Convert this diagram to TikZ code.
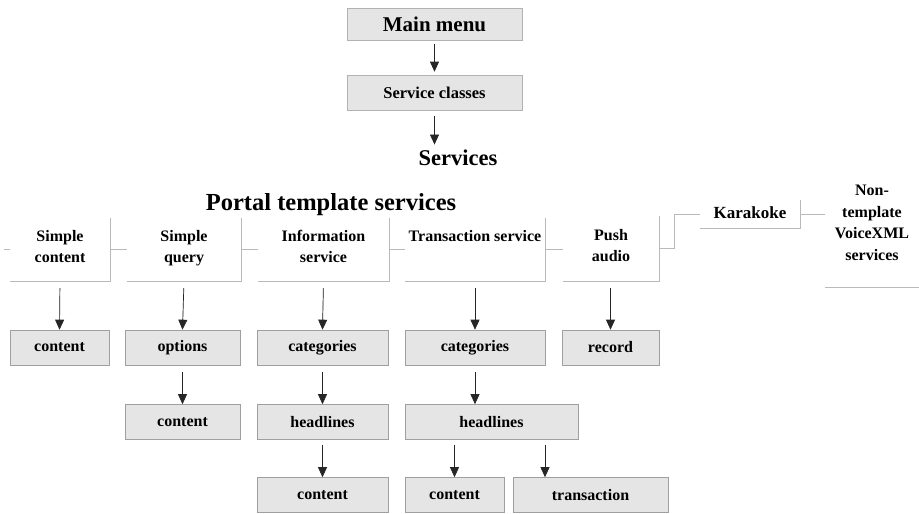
\documentclass[tikz,border=0pt]{standalone}
\usepackage{fontspec}
\setmainfont{Liberation Serif}
\usetikzlibrary{arrows.meta}

\begin{document}
\begin{tikzpicture}[
    x=1pt, y=-1pt,
    menubox/.style={draw=gray!60, fill=gray!20, line width=0.6pt, inner sep=0pt, minimum width=175pt},
    leafbox/.style={draw=gray!75, fill=gray!20, line width=0.6pt, inner sep=0pt, minimum height=35pt, font=\fontsize{16}{20}\selectfont\bfseries},
    tabnode/.style={inner sep=0pt, minimum height=63pt, align=center, font=\fontsize{16}{21.5}\selectfont\bfseries,
        execute at begin node=\strut, execute at end node=\strut},
    tabline/.style={draw=gray!55, line width=0.6pt},
    arrow/.style={-{Triangle[width=9pt,length=10pt]}, line width=0.7pt, draw=black!85, fill=black!85, shorten <=7pt}
]
\useasboundingbox (0,0) rectangle (919,514);

% Top of the menu
\node[menubox, minimum height=32pt, font=\fontsize{21}{24}\selectfont\bfseries] (mm) at (434.5,24) {Main menu};
\node[menubox, minimum height=35pt, font=\fontsize{16.5}{20}\selectfont\bfseries] (scl) at (434.5,92.5) {Service classes};
\node[font=\fontsize{22.5}{26}\selectfont\bfseries] (srv) at (458,158) {Services};
\node[font=\fontsize{24.5}{28}\selectfont\bfseries] (pts) at (331,205) {Portal template services};

\draw[arrow, shorten <=4pt, shorten >=3pt] (mm.south) -- (scl.north);
\draw[arrow, shorten <=6pt, shorten >=2pt] (scl.south) -- (scl.south |- srv.north);

% Service tabs
\node[tabnode, minimum width=100pt] (sc) at (60,249.5) {Simple\\content};
\node[tabnode, minimum width=114pt] (sq) at (184,249.5) {Simple\\query};
\node[tabnode, minimum width=131pt] (is) at (323.5,249.5) {Information\\service};
\node[tabnode, minimum width=140pt] (ts) at (475,249.5) {Transaction service\\};
\node[tabnode, minimum width=96pt, minimum height=65pt] (pa) at (611,248.5) {Push\\audio};
\node[tabnode, minimum width=100pt, minimum height=28pt, font=\fontsize{17}{20}\selectfont\bfseries] (kar) at (750,214) {Karakoke};
\node[tabnode, minimum width=94pt, minimum height=122pt] (nt) at (872,226) {Non-\\template\\VoiceXML\\services};

\foreach \t in {sc,sq,is,ts,pa,kar}
    \draw[tabline] (\t.north east) -- (\t.south east) -- (\t.south west);
\draw[tabline] (nt.south west) -- (nt.south east);

\draw[tabline] (sc.west) -- ++(-6,0);
\draw[tabline] (sc.east) -- (sq.west);
\draw[tabline] (sq.east) -- (is.west);
\draw[tabline] (is.east) -- (ts.west);
\draw[tabline] (ts.east) -- (ts.east -| pa.west);
\draw[tabline] (pa.east) -- ++(15,0) |- (kar.west);
\draw[tabline] (kar.east) -- (kar.east -| nt.west);

% First level
\node[leafbox, minimum width=99pt] (cA) at (59.5,347.5) {content};
\node[leafbox, minimum width=115pt] (opt) at (182.5,347.5) {options};
\node[leafbox, minimum width=131pt] (catA) at (322.5,347.5) {categories};
\node[leafbox, minimum width=140pt] (catB) at (475,347.5) {categories};
\node[leafbox, minimum width=97pt] (rec) at (610.5,347.5) {record};

% Second level
\node[leafbox, minimum width=115pt] (cB) at (182.5,422) {content};
\node[leafbox, minimum width=131pt] (hlA) at (322.5,422) {headlines};
\node[leafbox, minimum width=173pt] (hlB) at (491.5,422) {headlines};

% Third level
\node[leafbox, minimum width=131pt] (cC) at (322.5,495) {content};
\node[leafbox, minimum width=99pt] (cD) at (454.5,495) {content};
\node[leafbox, minimum width=155pt] (trn) at (590.5,495) {transaction};

\draw[arrow] (sc.south) -- (cA.north);
\draw[arrow] (sq.south) -- (opt.north);
\draw[arrow] (is.south) -- (catA.north);
\draw[arrow] (ts.south -| catB.north) -- (catB.north);
\draw[arrow] (pa.south -| rec.north) -- (rec.north);

\draw[arrow] (opt.south) -- (cB.north);
\draw[arrow] (catA.south) -- (hlA.north);
\draw[arrow] (catB.south) -- (catB.south |- hlB.north);

\draw[arrow, shorten <=5pt] (hlA.south) -- (cC.north);
\draw[arrow, shorten <=5pt] (hlB.south -| cD.north) -- (cD.north);
\draw[arrow, shorten <=5pt] ([xshift=53.5pt]hlB.south) -- ([xshift=53.5pt]hlB.south |- trn.north);

\end{tikzpicture}
\end{document}
